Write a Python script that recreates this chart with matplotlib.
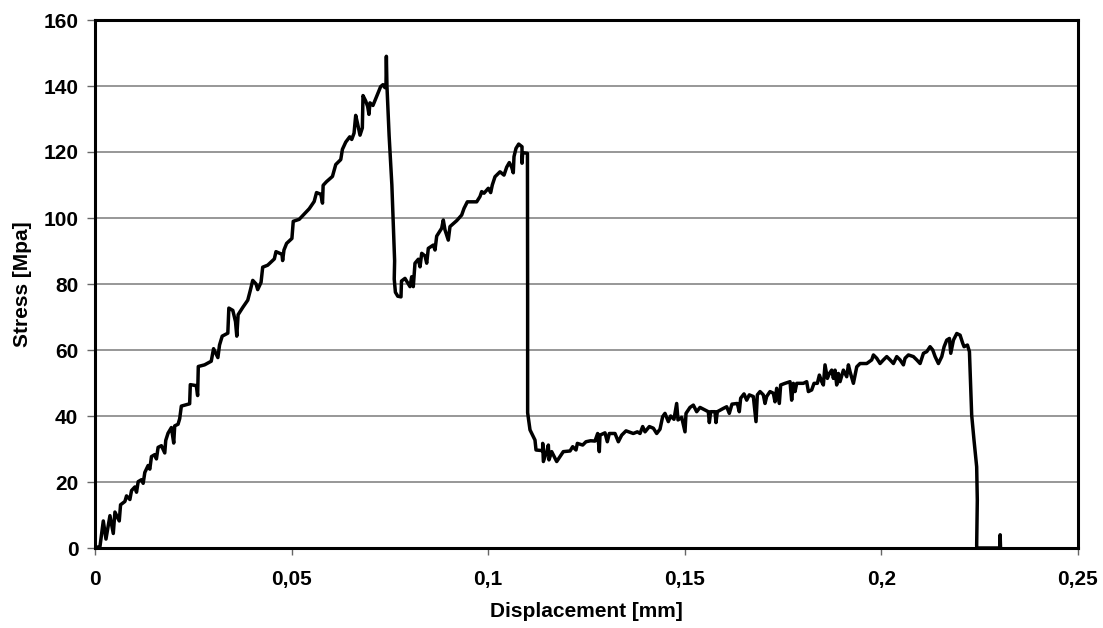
"""
Stress vs displacement trace of a push-out test, redrawn from a scanned figure.
"""

import matplotlib

matplotlib.use("Agg")
import matplotlib.pyplot as plt

# (displacement [mm], stress [MPa]), one list per part of the trace
first_rise = [
    (0, 0), (0.00127, 0.5), (0.00211, 8.2), (0.00279, 2.7), (0.0038, 9.8),
    (0.00465, 4.4), (0.00507, 10.9), (0.00617, 8.2), (0.0065, 13.1), (0.0076, 14.1),
    (0.00802, 15.8), (0.00887, 14.7), (0.00929, 17.4), (0.01014, 18.5), (0.01056, 16.9),
    (0.01098, 20.1), (0.01182, 20.7), (0.01225, 19.6), (0.01267, 22.9), (0.01351, 25.0),
    (0.01394, 23.9), (0.01436, 27.7), (0.0152, 28.3), (0.01562, 27.0), (0.01605, 30.5),
    (0.01689, 31.0), (0.01774, 28.8), (0.01799, 32.6), (0.01858, 34.8), (0.01943, 36.5),
    (0.02002, 31.8), (0.02027, 37.0), (0.02112, 37.5), (0.02154, 39.2), (0.02196, 43.0),
    (0.02407, 43.7), (0.02424, 49.5), (0.02576, 49.2), (0.0261, 46.2), (0.02627, 55.0),
    (0.02787, 55.5), (0.02956, 56.6), (0.03015, 60.4), (0.03125, 57.7), (0.03167, 61.5),
    (0.03235, 64.2), (0.03378, 65.1), (0.03404, 72.7), (0.03505, 72.0), (0.03573, 68.6),
    (0.03606, 64.2), (0.0364, 70.7), (0.03758, 72.9), (0.03885, 75.1), (0.03944, 77.8),
    (0.04012, 81.1), (0.04096, 80.0), (0.04138, 78.3), (0.04223, 80.5), (0.04265, 85.1),
    (0.04392, 85.7), (0.04561, 87.6), (0.04603, 89.8), (0.04755, 89.0), (0.04772, 87.1),
    (0.04806, 90.3), (0.04873, 92.3), (0.05008, 93.8), (0.05042, 99.0), (0.05194, 99.6),
    (0.05448, 102.8), (0.05574, 105.0), (0.05634, 107.7), (0.05743, 107.2), (0.05786, 104.5),
    (0.05802, 109.9), (0.05887, 111.0), (0.06039, 112.6), (0.06123, 116.2), (0.0625, 117.7),
    (0.06292, 120.8), (0.06377, 123.0), (0.06478, 124.6), (0.06529, 123.8), (0.06588, 125.7),
    (0.0663, 131.1), (0.06672, 128.9), (0.0674, 125.1), (0.06799, 127.3), (0.06816, 137.1),
    (0.06883, 135.5), (0.06934, 133.8), (0.06968, 131.4), (0.06993, 134.9), (0.07069, 134.1),
    (0.07154, 136.6), (0.07264, 139.8), (0.07323, 140.4), (0.07373, 139.5), (0.0740, 140.2),
    (0.0741, 149.0),
]

first_drop = [
    (0.07425, 140.0), (0.0748, 125.0), (0.0755, 110.0), (0.0759, 97.0), (0.0762, 87.0),
    (0.0761, 81.5), (0.0764, 77.5), (0.0770, 76.3), (0.07782, 76.1), (0.07795, 80.9),
]

second_rise = [
    (0.07884, 81.7), (0.08011, 79.2), (0.08054, 82.2), (0.08095, 79.2), (0.08138, 86.3),
    (0.08223, 87.5), (0.08266, 85.2), (0.08309, 89.3), (0.08393, 88.5), (0.08436, 86.3),
    (0.08477, 90.8), (0.08604, 91.8), (0.08647, 90.3), (0.0869, 94.5), (0.08817, 96.9),
    (0.08858, 99.4), (0.08901, 96.4), (0.08985, 93.3), (0.09028, 97.4), (0.09199, 99.2),
    (0.09326, 100.9), (0.09385, 102.9), (0.09469, 104.9), (0.09707, 104.9), (0.09791, 106.5),
    (0.09834, 108.0), (0.09893, 107.5), (0.10003, 109.0), (0.10063, 107.7), (0.10104, 110.0),
    (0.10173, 112.5), (0.103, 114.0), (0.10402, 113.0), (0.1047, 115.4), (0.10537, 116.8),
    (0.10597, 115.4), (0.10638, 113.7), (0.10656, 118.6), (0.10707, 121.1), (0.10775, 122.4),
    (0.1086, 121.6), (0.1086, 116.6), (0.10877, 119.8), (0.10998, 119.6),
]

second_drop = [
    (0.11003, 75.0), (0.11003, 41.0), (0.11063, 35.8), (0.1119, 32.7), (0.11216, 29.7),
]

plateau = [
    (0.11386, 29.5), (0.11386, 31.7), (0.11403, 26.2), (0.11487, 29.2), (0.1153, 31.2),
    (0.11546, 26.7), (0.11614, 29.2), (0.11657, 28.2), (0.11742, 26.2), (0.11826, 27.7),
    (0.1191, 29.2), (0.12081, 29.4), (0.12149, 30.7), (0.12233, 29.7), (0.12267, 31.7),
    (0.12403, 31.2), (0.12487, 32.2), (0.12606, 32.5), (0.12716, 32.4), (0.12784, 34.7),
    (0.12826, 29.2), (0.12843, 34.2), (0.1297, 34.9), (0.13029, 32.2), (0.1308, 34.7),
    (0.13225, 34.7), (0.1331, 32.2), (0.13395, 34.2), (0.13505, 35.5), (0.1369, 34.7),
    (0.13793, 35.2), (0.13861, 34.7), (0.13929, 36.8), (0.13988, 35.2), (0.14098, 36.8),
    (0.142, 36.3), (0.14285, 34.7), (0.14369, 36.0), (0.14437, 39.8), (0.14496, 40.8),
    (0.14581, 38.3), (0.14641, 40.0), (0.14725, 39.0), (0.14793, 43.8), (0.14827, 38.8),
    (0.14921, 39.6), (0.15005, 35.2), (0.15031, 40.8), (0.15132, 42.6), (0.15217, 43.3),
    (0.15302, 41.3), (0.15387, 42.6), (0.15598, 41.3), (0.15624, 38.0), (0.15658, 41.3),
    (0.15768, 41.3), (0.15793, 38.0), (0.15827, 41.3), (0.1598, 42.3), (0.16065, 42.8),
    (0.16132, 40.8), (0.162, 43.6), (0.16335, 43.8), (0.16386, 41.3), (0.16421, 45.4),
    (0.16506, 46.7), (0.16574, 44.8), (0.16641, 46.4), (0.16743, 45.9), (0.16811, 38.3),
    (0.16845, 46.4), (0.16913, 47.4), (0.16997, 46.4), (0.1704, 43.8), (0.17082, 45.9),
    (0.17167, 47.4), (0.17252, 46.9), (0.17294, 44.3), (0.17337, 48.4), (0.17404, 43.8),
    (0.17438, 49.4), (0.17549, 49.9), (0.17676, 50.4), (0.17718, 44.8), (0.17761, 49.9),
    (0.17803, 47.4), (0.17846, 49.9), (0.18015, 49.9), (0.181, 50.4), (0.18143, 47.4),
    (0.18227, 47.9), (0.18287, 49.9), (0.18371, 49.9), (0.18422, 52.4), (0.18482, 50.4),
    (0.18524, 49.4), (0.18566, 55.5), (0.18626, 51.4), (0.18677, 52.9), (0.18736, 53.9),
    (0.18779, 51.4), (0.18821, 53.9), (0.18863, 49.4), (0.18906, 52.9), (0.18948, 50.4),
    (0.19033, 53.9), (0.19118, 51.9), (0.19161, 55.5), (0.19203, 53.4), (0.19288, 49.9),
    (0.1933, 52.4), (0.19373, 54.9), (0.19457, 55.9), (0.19627, 55.9), (0.19754, 57.0),
    (0.19797, 58.5), (0.19881, 57.5), (0.19966, 55.9), (0.20051, 57.0), (0.20136, 58.0),
    (0.20221, 57.0), (0.20306, 55.9), (0.2039, 58.0), (0.20475, 57.0), (0.2056, 55.5),
    (0.20602, 57.5), (0.20687, 58.5), (0.20814, 58.0), (0.20899, 57.0), (0.20984, 55.9),
    (0.21069, 59.0), (0.21153, 59.5), (0.21238, 61.0), (0.21306, 60.0), (0.21366, 58.0),
    (0.2145, 55.9), (0.21535, 58.0), (0.21595, 61.0), (0.21662, 63.0), (0.2173, 63.5),
    (0.21764, 59.0), (0.21832, 63.0), (0.21917, 65.0), (0.22001, 64.5), (0.22069, 62.0),
    (0.22103, 61.0), (0.22188, 61.5), (0.22239, 59.5),
]

final_drop = [
    (0.22296, 40.3), (0.22355, 32.7), (0.22423, 24.6), (0.22439, 14.5), (0.22423, 0.9),
    (0.22425, 0), (0.2301, 0), (0.2302, 4.0), (0.2303, 0),
]

x_ticks = [0, 0.05, 0.1, 0.15, 0.2, 0.25]
x_tick_labels = ["0", "0,05", "0,1", "0,15", "0,2", "0,25"]
y_ticks = [0, 20, 40, 60, 80, 100, 120, 140, 160]


def main():
    plt.rcParams["font.family"] = ["Liberation Sans", "DejaVu Sans"]
    plt.rcParams["font.weight"] = "bold"

    trace = first_rise + first_drop + second_rise + second_drop + plateau + final_drop
    disp = [p[0] for p in trace]
    stress = [p[1] for p in trace]

    fig = plt.figure(figsize=(11.03, 6.28), dpi=100)
    ax = fig.add_axes([95 / 1103, 80 / 628, 983 / 1103, 528 / 628])

    ax.plot(
        disp,
        stress,
        color="black",
        linewidth=2.5,
        solid_joinstyle="round",
        solid_capstyle="round",
    )

    ax.set_xlim(0, 0.25)
    ax.set_ylim(0, 160)
    ax.set_xticks(x_ticks)
    ax.set_xticklabels(x_tick_labels)
    ax.set_yticks(y_ticks)

    ax.yaxis.grid(True, color="#7a7a7a", linewidth=1.1)
    ax.set_axisbelow(True)

    for spine in ax.spines.values():
        spine.set_linewidth(2.2)
        spine.set_color("black")

    ax.tick_params(axis="x", direction="out", length=5, width=1, color="#666666",
                   labelsize=15, pad=11)
    ax.tick_params(axis="y", direction="out", length=6, width=1, color="#666666",
                   labelsize=15, pad=6)
    for lbl in ax.get_xticklabels() + ax.get_yticklabels():
        lbl.set_fontweight("bold")

    ax.set_xlabel("Displacement [mm]", fontsize=15, fontweight="bold", labelpad=9)
    ax.set_ylabel("Stress [Mpa]", fontsize=15, fontweight="bold", labelpad=8)

    fig.savefig("out.png", dpi=100)
    plt.close(fig)


if __name__ == "__main__":
    main()
